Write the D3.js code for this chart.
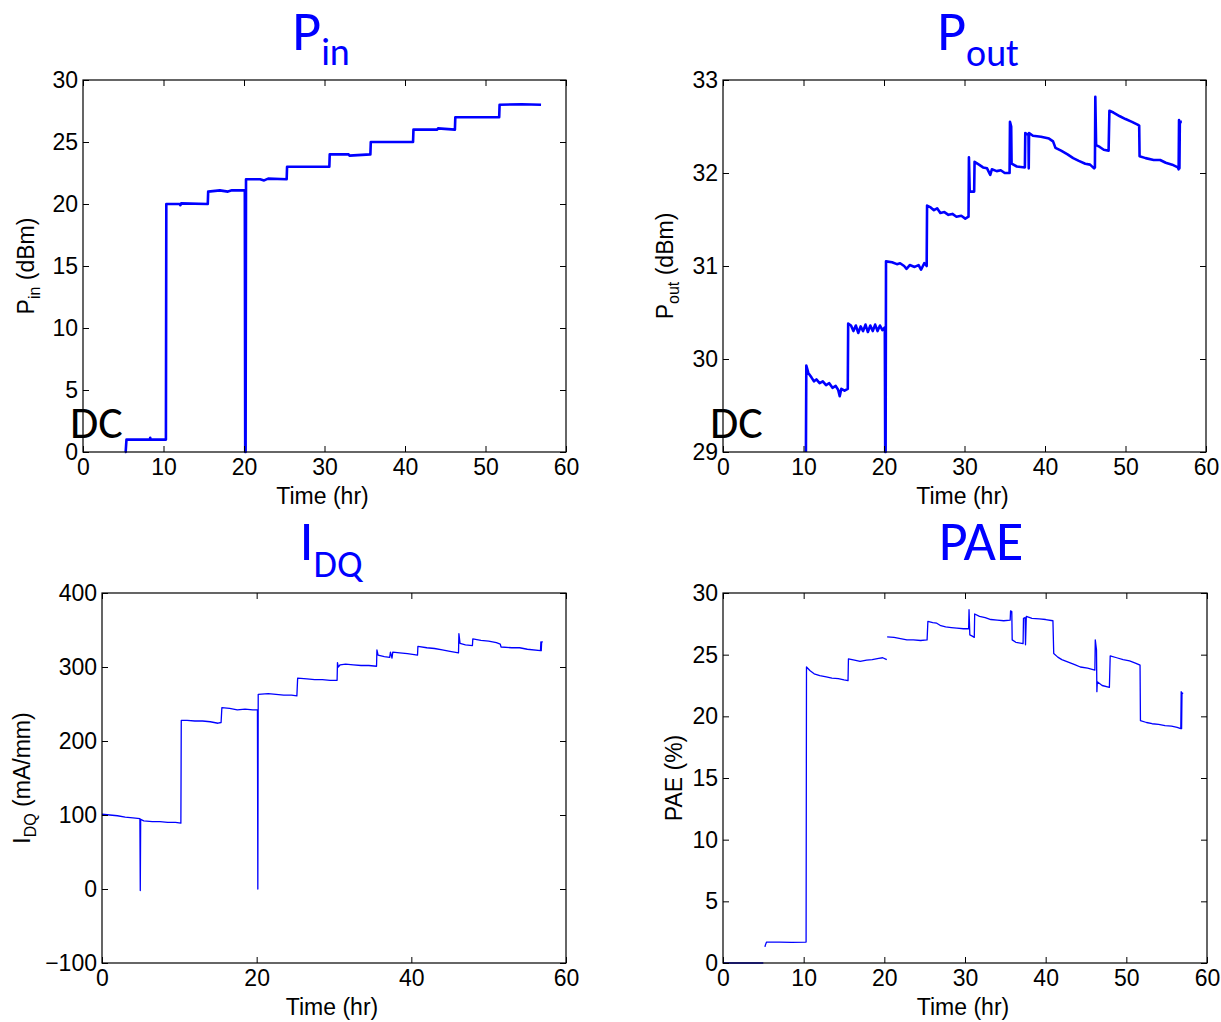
<!DOCTYPE html>
<html>
<head>
<meta charset="utf-8">
<script src="https://cdn.jsdelivr.net/npm/d3@7"></script>
<style>
  body { margin: 0; background: #fff; }
  .tick text { font-family: "Liberation Sans", Arial, sans-serif; font-size: 23px; fill: #000; }
  .tick line { stroke: #000; }
  .axis-label { font-family: "Liberation Sans", Arial, sans-serif; font-size: 23px; fill: #000; }
  .title { font-family: Calibri, Carlito, Lato, "Open Sans", sans-serif; fill: #0000ff; }
  .dc { font-family: Calibri, Carlito, Lato, "Open Sans", sans-serif; fill: #000; }
</style>
</head>
<body>
<svg width="1221" height="1022"></svg>
<script>
// ---- data: [time (hr), value], null = gap ----
const pinData = [
  [5.2,0],[5.3,0],[5.4,1],[8.3,1],[8.35,1.15],[8.4,1],[10.3,1],[10.35,20],[12,20],[12.1,19.9],[12.2,20.05],
  [15.5,20],[15.55,21],[17,21.1],[18,21],[18.5,21.1],[20.1,21.1],[20.15,0],[20.2,0],[20.25,22],[22,22],
  [22.5,21.9],[23,22.05],[25.3,22],[25.35,23],[30.6,23],[30.65,24],[33,24],[33.1,23.9],[35.7,24],[35.75,25],
  [41,25],[41.05,26],[44,26],[44.1,26.1],[46.2,26],[46.25,27],[51.7,27],[51.75,28],[54.5,28.05],[56.9,28]
];

const poutData = [
  [10.3,29],[10.35,29.93],[10.6,29.85],[11,29.8],[11.3,29.76],[11.6,29.78],[12,29.74],[12.4,29.76],[12.8,29.72],
  [13.2,29.74],[13.6,29.69],[14,29.71],[14.3,29.67],[14.5,29.6],[14.7,29.68],[15.1,29.66],[15.5,29.68],
  [15.55,30.38],[15.9,30.36],[16.2,30.3],[16.5,30.36],[16.8,30.28],[17.1,30.35],[17.4,30.3],[17.7,30.37],
  [18,30.29],[18.3,30.36],[18.6,30.3],[18.9,30.37],[19.2,30.3],[19.5,30.36],[19.8,30.31],[20.1,30.34],
  [20.15,29],[20.2,29],[20.25,31.05],[21,31.04],[21.6,31.02],[22,31.03],[22.5,31],[22.8,30.97],[23.2,31.01],
  [23.8,30.99],[24.3,31.01],[24.6,30.96],[25,31.03],[25.3,31.0],[25.35,31.65],[25.8,31.63],[26.2,31.6],
  [26.6,31.62],[27,31.57],[27.5,31.58],[28,31.55],[28.5,31.56],[29,31.53],[29.6,31.54],[30.1,31.51],
  [30.5,31.53],[30.55,32.17],[30.65,31.8],[31.2,31.8],[31.25,32.12],[31.8,32.09],[32.3,32.06],[32.8,32.05],
  [33.2,31.98],[33.4,32.04],[34,32.02],[34.5,32.03],[35,32.0],[35.6,32.0],[35.65,32.55],[35.8,32.5],
  [35.85,32.1],[36.5,32.07],[37.5,32.06],[37.55,32.43],[37.95,32.41],[37.98,32.05],[38.02,32.43],[38.5,32.4],
  [39.5,32.39],[40.5,32.37],[41,32.34],[41.3,32.27],[42,32.24],[42.8,32.2],[43.5,32.16],[44.2,32.13],
  [45,32.1],[45.6,32.09],[46.1,32.05],[46.2,32.06],[46.25,32.82],[46.35,32.3],[46.8,32.28],[47.3,32.25],
  [47.9,32.24],[48.0,32.67],[48.5,32.65],[49.3,32.61],[50,32.58],[50.8,32.55],[51.5,32.52],[51.7,32.51],
  [51.75,32.18],[52.5,32.16],[53.5,32.14],[54.3,32.14],[55,32.11],[55.8,32.09],[56.5,32.06],[56.6,32.04],
  [56.65,32.57],[56.7,32.05],[56.75,32.55],[57.0,32.55]
];

const idqData = [
  [0,101],[1,100],[2,99],[3,97],[4,96],[4.9,95],[4.95,-2],[5.0,94],[5.4,92],[6.5,91],[7.5,91],[8.5,90],
  [9.5,90],[10.2,89],[10.25,228],[11,228],[12,227],[13,227],[14,226],[15,224],[15.4,225],[15.5,245],
  [16.5,244],[17.5,242],[18.5,243],[19.5,242],[20.1,242],[20.15,0],[20.2,263],[21.5,264],[22.5,263],
  [23.5,262],[24.5,262],[25.2,261],[25.3,285],[26.5,284],[27.5,283],[28.5,283],[29.5,282],[30.4,282],
  [30.45,306],[30.55,300],[30.8,303],[31.5,304],[32.5,303],[33.5,302],[34.5,302],[35.5,301],[35.55,323],
  [35.7,316],[36.5,314],[37.2,313],[37.3,320],[37.5,312],[37.6,320],[38.5,319],[39.5,318],[40.8,316],
  [40.85,328],[42,326],[43,325],[44,323],[45,321],[46.1,319],[46.15,345],[46.3,332],[47,330],[47.9,329],
  [47.95,338],[49,336],[50,335],[51,333],[51.5,331],[51.6,327],[53,326],[54,326],[55,324],[56.7,322],
  [56.75,334],[56.8,322],[56.85,334],[57.0,334]
];

const paeData = [
  [0,0],[5.0,0],null,[5.2,1.3],[5.25,1.45],[5.4,1.7],[7,1.7],[8.5,1.68],[10.3,1.7],[10.35,24.0],[10.8,23.7],
  [11.3,23.45],[12,23.3],[12.8,23.2],[13.5,23.1],[14.3,23.05],[15,22.95],[15.5,22.9],[15.55,24.65],
  [16.3,24.55],[17,24.45],[17.8,24.55],[18.5,24.6],[19.3,24.7],[19.8,24.75],[20.3,24.6],null,
  [20.35,26.45],[21.2,26.4],[22,26.3],[22.8,26.2],[23.6,26.2],[24.5,26.15],[25.3,26.2],[25.4,27.7],
  [26,27.6],[26.5,27.55],[27,27.35],[27.6,27.25],[28.3,27.2],[29,27.15],[29.8,27.1],[30.45,27.1],
  [30.5,28.65],[30.6,26.6],[30.9,26.5],[31.15,26.4],[31.2,28.3],[31.8,28.1],[32.5,28.0],[33.2,27.85],
  [34,27.8],[34.8,27.75],[35.6,27.8],[35.65,28.55],[35.8,28.5],[35.85,26.2],[36.3,26.0],[37.2,25.9],
  [37.25,27.95],[37.45,28.0],[37.5,25.8],[37.6,28.1],[38.3,27.95],[39.2,27.9],[40,27.85],[40.9,27.75],
  [41.0,25.1],[41.5,24.8],[42,24.6],[42.8,24.4],[43.6,24.2],[44.3,24.0],[45.2,23.9],[46.1,23.75],
  [46.15,26.2],[46.3,25.4],[46.35,22.0],[46.4,22.8],[47,22.5],[47.9,22.35],[48.0,24.9],[48.8,24.75],
  [49.6,24.6],[50.4,24.5],[51.2,24.3],[51.7,24.15],[51.75,19.65],[52.5,19.5],[53.2,19.4],[54,19.35],
  [54.8,19.25],[55.6,19.2],[56.3,19.1],[56.75,19.0],[56.8,22.0],[56.85,19.0],[56.9,21.9],[57.05,21.85]
];

// tick labels
const timeTicks = [0, 10, 20, 30, 40, 50, 60];
const timeTicksIdq = [0, 20, 40, 60];
const pinTicks = [0, 5, 10, 15, 20, 25, 30];
const poutTicks = [29, 30, 31, 32, 33];
const idqTicks = [-100, 0, 100, 200, 300, 400];
const paeTicks = [0, 5, 10, 15, 20, 25, 30];

const svg = d3.select('svg');

const Scales = {
    linear: (min_value, max_value, start_pos, end_pos) => {
        return d3.scaleLinear()
                .domain([min_value, max_value])
                .range([start_pos, end_pos]);
    }
}

let drawPanel = (p) => {
    let xScale = Scales.linear(0, 60, p.left, p.right);
    let yScale = Scales.linear(p.yTicks[0], p.yTicks[p.yTicks.length - 1], p.bottom, p.top);
    let layer = svg.append('g');

    let clipId = 'clip' + p.id;
    layer.append('clipPath').attr('id', clipId)
        .append('rect')
        .attr('x', p.left).attr('y', p.top - 2)
        .attr('width', p.right - p.left).attr('height', p.bottom - p.top + 4);

    // data line
    let line = d3.line()
        .defined(d => d !== null)
        .x(d => xScale(d[0]))
        .y(d => yScale(d[1]));
    layer.append('path')
        .datum(p.data)
        .attr('clip-path', 'url(#' + clipId + ')')
        .attr('d', line)
        .style('fill', 'none')
        .style('stroke', '#0000ff')
        .style('stroke-width', p.lw)
        .style('stroke-linejoin', 'round');

    // axes with inward ticks on all four sides
    layer.append('g')
        .attr('transform', 'translate(0,' + p.bottom + ')')
        .call(d3.axisBottom(xScale).tickValues(p.xTicks).tickSizeInner(-6).tickSizeOuter(0).tickPadding(7).tickFormat(d3.format('d')))
        .call(g => g.select('.domain').remove());
    layer.append('g')
        .attr('transform', 'translate(0,' + p.top + ')')
        .call(d3.axisTop(xScale).tickValues(p.xTicks).tickSizeInner(-6).tickSizeOuter(0).tickFormat(''))
        .call(g => g.select('.domain').remove());
    layer.append('g')
        .attr('transform', 'translate(' + p.left + ',0)')
        .call(d3.axisLeft(yScale).tickValues(p.yTicks).tickSizeInner(-6).tickSizeOuter(0).tickPadding(5).tickFormat(d3.format('d')))
        .call(g => g.select('.domain').remove());
    layer.append('g')
        .attr('transform', 'translate(' + p.right + ',0)')
        .call(d3.axisRight(yScale).tickValues(p.yTicks).tickSizeInner(-6).tickSizeOuter(0).tickFormat(''))
        .call(g => g.select('.domain').remove());

    layer.append('rect')
        .attr('x', p.left).attr('y', p.top)
        .attr('width', p.right - p.left).attr('height', p.bottom - p.top)
        .style('fill', 'none')
        .style('stroke', '#000')
        .style('stroke-width', 1.2);

    // x label
    layer.append('text')
        .attr('class', 'axis-label')
        .attr('x', (p.left + p.right) / 2 - 2)
        .attr('y', p.bottom + 52)
        .style('text-anchor', 'middle')
        .text('Time (hr)');

    // y label
    let yl = layer.append('text')
        .attr('class', 'axis-label')
        .attr('transform', 'translate(' + p.ylabelX + ',' + (p.top + p.bottom) / 2 + ') rotate(-90)')
        .style('text-anchor', 'middle');
    yl.append('tspan').text(p.ylabel[0]);
    if (p.ylabel[1]) {
        yl.append('tspan').attr('dy', 6).style('font-size', '16px').text(p.ylabel[1]);
        yl.append('tspan').attr('dy', -6).text(' ' + p.ylabel[2]);
    } else {
        yl.append('tspan').text(' ' + p.ylabel[2]);
    }

    // title
    let t = layer.append('text')
        .attr('class', 'title')
        .attr('x', p.titleX)
        .attr('y', p.titleY)
        .style('text-anchor', 'middle')
        .style('font-size', '56px');
    t.append('tspan').text(p.title[0]);
    if (p.title[1]) {
        t.append('tspan').attr('dy', p.subDy).style('font-size', '38px').text(p.title[1]);
    }

    if (p.dc) {
        layer.append('text')
            .attr('class', 'dc')
            .attr('x', p.left - 13)
            .attr('y', p.bottom - 14)
            .style('font-size', '46px')
            .text('DC');
    }
}

const panels = [
    {id: 1, data: pinData, left: 83, right: 566, top: 80, bottom: 452, xTicks: timeTicks, yTicks: pinTicks,
     lw: 2.6, title: ['P', 'in'], titleX: 321, titleY: 50, subDy: 15, ylabel: ['P', 'in', '(dBm)'], ylabelX: 34, dc: true},
    {id: 2, data: poutData, left: 723, right: 1206, top: 80, bottom: 452, xTicks: timeTicks, yTicks: poutTicks,
     lw: 2.6, title: ['P', 'out'], titleX: 978, titleY: 50, subDy: 16, ylabel: ['P', 'out', '(dBm)'], ylabelX: 673, dc: true},
    {id: 3, data: idqData, left: 102, right: 566, top: 593, bottom: 963, xTicks: timeTicksIdq, yTicks: idqTicks,
     lw: 1.3, title: ['I', 'DQ'], titleX: 331, titleY: 560, subDy: 17, ylabel: ['I', 'DQ', '(mA/mm)'], ylabelX: 30, dc: false},
    {id: 4, data: paeData, left: 723, right: 1207, top: 593, bottom: 963, xTicks: timeTicks, yTicks: paeTicks,
     lw: 1.3, title: ['PAE', null], titleX: 981, titleY: 560, subDy: 0, ylabel: ['PAE', null, '(%)'], ylabelX: 682, dc: false}
];

panels.forEach(p => drawPanel(p));
</script>
</body>
</html>
